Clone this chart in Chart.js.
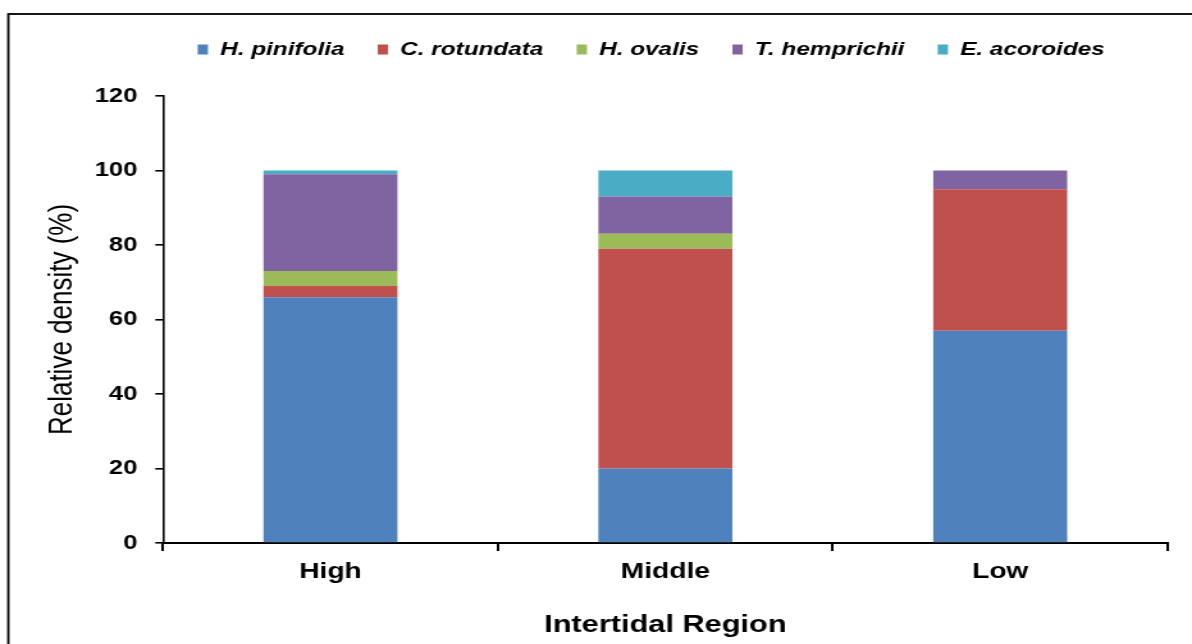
<!DOCTYPE html>
<html>
<head>
<meta charset="utf-8">
<script src="https://cdn.jsdelivr.net/npm/chart.js@4.4.0/dist/chart.umd.min.js"></script>
<style>
  html, body { margin: 0; padding: 0; background: #fff; overflow: hidden; }
  /* the reference is stretched sideways, so the canvas is drawn narrow and widened */
  #chart { display: block; width: 1192px; height: 644px; }
</style>
</head>
<body>
<canvas id="chart" width="931" height="644" style="width:1192px;height:644px"></canvas>
<script>
const regions = ["High", "Middle", "Low"];
const species = ["H. pinifolia", "C. rotundata", "H. ovalis", "T. hemprichii", "E. acoroides"];
const colors = ["#4F81BD", "#C0504D", "#9BBB59", "#8064A2", "#4BACC6"];

// relative density (%) per region: High, Middle, Low
const hPinifolia = [66, 20, 57];
const cRotundata = [3, 59, 38];
const hOvalis = [4, 4, 0];
const tHemprichii = [26, 10, 5];
const eAcoroides = [1, 7, 0];

const yTicks = [0, 20, 40, 60, 80, 100, 120];

const seriesValues = [hPinifolia, cRotundata, hOvalis, tHemprichii, eAcoroides];
const FONT = "'Liberation Sans', Arial, sans-serif";

const frame = {
  id: "frame",
  afterInit(chart) {
    // leave some room between legend and plot
    const lg = chart.legend;
    const fit = lg.fit;
    lg.fit = function () {
      fit.call(this);
      this.height += 27;
    };
  },
  afterLayout(chart) {
    // nudge the legend a bit left, like the original
    chart.legend.left -= 11;
    chart.legend.right -= 11;
  },
  beforeDraw(chart) {
    const ctx = chart.ctx;
    ctx.save();
    ctx.fillStyle = "#fff";
    ctx.fillRect(0, 0, chart.width, chart.height);
    ctx.strokeStyle = "#000";
    ctx.lineWidth = 1.8;
    ctx.strokeRect(6.5, 14, 1400, 900);
    ctx.restore();
  }
};

new Chart(document.getElementById("chart"), {
  type: "bar",
  data: {
    labels: regions,
    datasets: species.map((name, i) => ({
      label: name,
      data: seriesValues[i],
      backgroundColor: colors[i],
      borderWidth: 0,
      barPercentage: 0.4,
      categoryPercentage: 1.0
    }))
  },
  options: {
    responsive: false,
    animation: false,
    devicePixelRatio: 1,
    layout: { padding: { top: 14, right: 19, left: 20, bottom: 0 } },
    plugins: {
      legend: {
        position: "top",
        fullSize: false,
        labels: {
          boxWidth: 8,
          boxHeight: 10,
          padding: 26,
          color: "#000",
          font: { family: FONT, size: 19, weight: "bold", style: "italic" }
        }
      },
      tooltip: { enabled: false }
    },
    scales: {
      x: {
        stacked: true,
        afterFit(scale) { scale.height = 101; },
        grid: { drawOnChartArea: false, color: "#000", lineWidth: 2, tickLength: 8 },
        border: { color: "#000", width: 2 },
        ticks: { color: "#000", padding: 8, font: { family: FONT, size: 22, weight: "bold" } },
        title: {
          display: true,
          text: "Intertidal Region",
          color: "#000",
          padding: { top: 14 },
          font: { family: FONT, size: 24, weight: "bold" }
        }
      },
      y: {
        stacked: true,
        min: 0,
        max: 120,
        afterFit(scale) { scale.width = 107.3; },
        afterBuildTicks(scale) { scale.ticks = yTicks.map(v => ({ value: v })); },
        grid: { drawOnChartArea: false, color: "#000", lineWidth: 1.6, tickLength: 6 },
        border: { color: "#000", width: 1.6 },
        ticks: { color: "#000", padding: 14, font: { family: FONT, size: 20, weight: "bold" } },
        title: {
          display: true,
          text: "Relative density (%)",
          color: "#000",
          padding: { top: 13, bottom: 0 },
          font: { family: FONT, size: 26 }
        }
      }
    }
  },
  plugins: [frame]
});
</script>
</body>
</html>
